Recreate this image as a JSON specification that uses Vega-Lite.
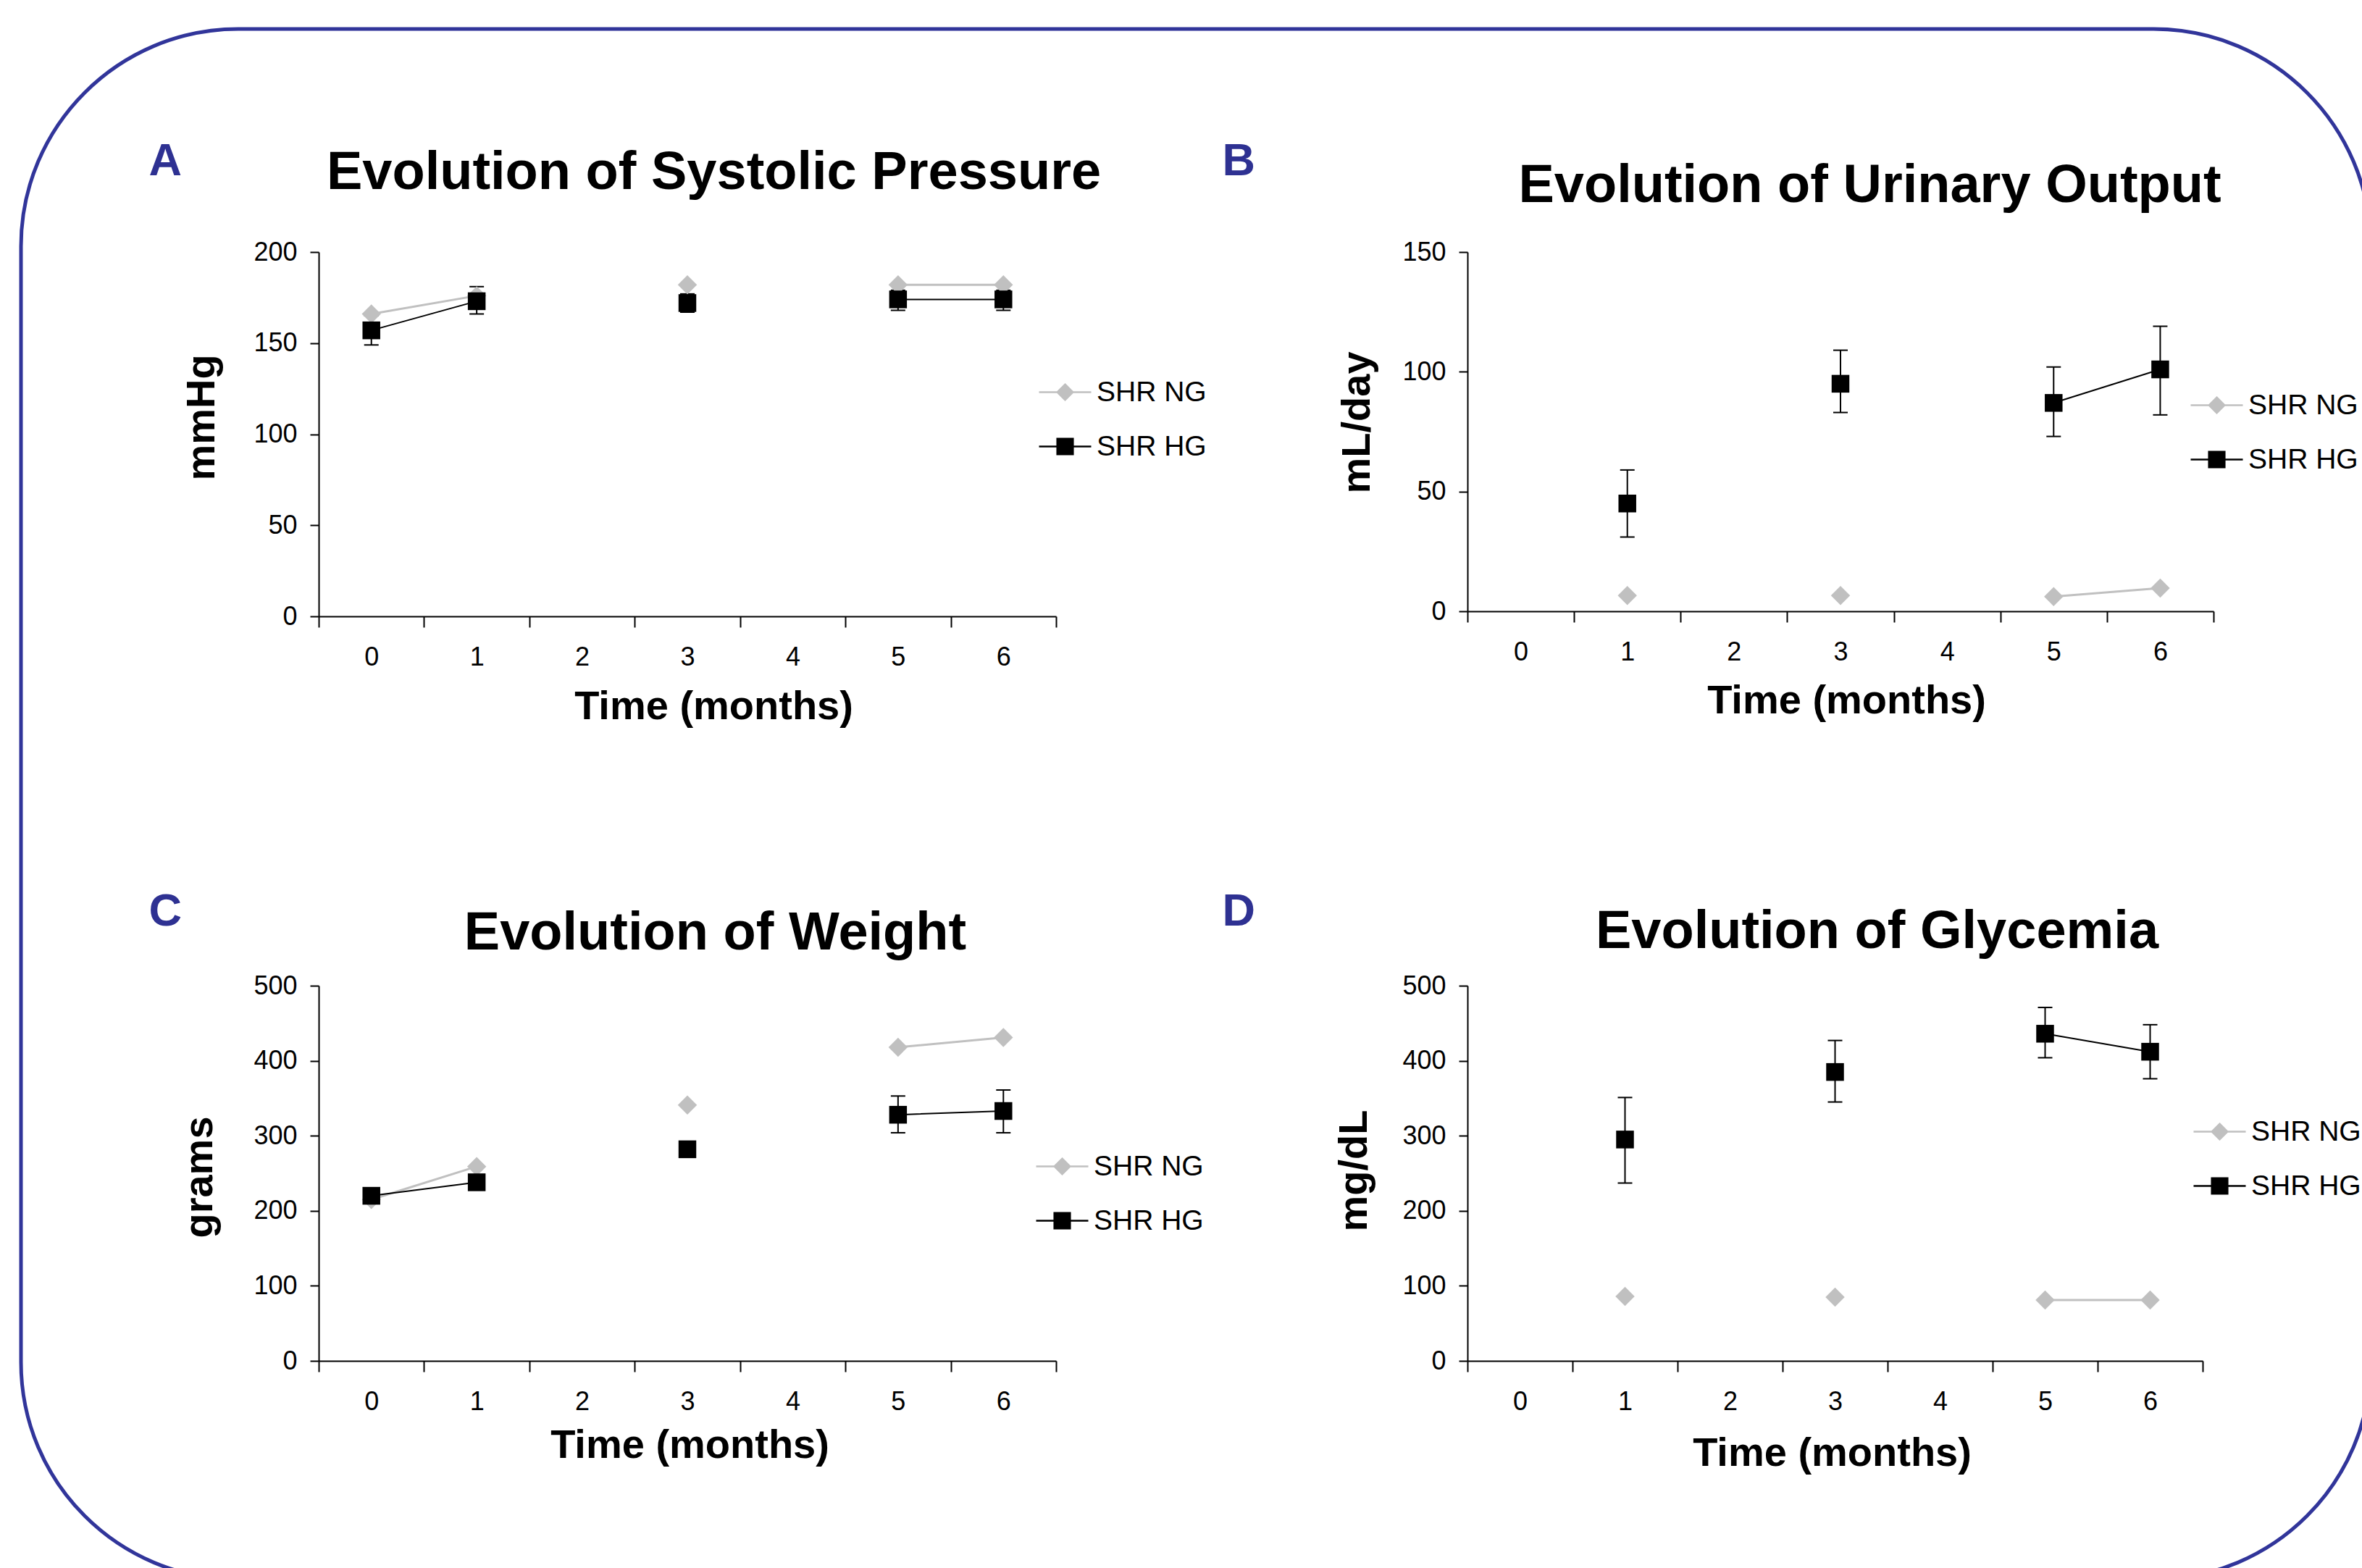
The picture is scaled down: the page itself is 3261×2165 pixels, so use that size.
{
  "$schema": "https://vega.github.io/schema/vega-lite/v6.json",
  "padding": {"left": 26, "top": 37, "right": 0, "bottom": 0},
  "background": "white",
  "config": {
    "font": "Liberation Sans",
    "view": {"stroke": null},
    "axis": {"domainColor": "black", "domainWidth": 2, "tickColor": "black", "tickWidth": 2, "labelColor": "black", "titleColor": "black", "grid": false, "labelFontSize": 36, "titleFontSize": 56, "titleFontWeight": "bold"},
    "legend": {"labelFontSize": 39, "labelColor": "black", "labelOffset": 6, "rowPadding": 17, "padding": 0, "symbolSize": 5184, "symbolStrokeWidth": 2.5, "title": null, "strokeWidth": 5}
  },
  "datasets": {
    "A": [
      {"month": 0, "series": "SHR NG", "value": 166, "lo": null, "hi": null},
      {"month": 1, "series": "SHR NG", "value": 176, "lo": null, "hi": null},
      {"month": 2, "series": "SHR NG", "value": null, "lo": null, "hi": null},
      {"month": 3, "series": "SHR NG", "value": 182, "lo": null, "hi": null},
      {"month": 4, "series": "SHR NG", "value": null, "lo": null, "hi": null},
      {"month": 5, "series": "SHR NG", "value": 182, "lo": null, "hi": null},
      {"month": 6, "series": "SHR NG", "value": 182, "lo": null, "hi": null},
      {"month": 0, "series": "SHR HG", "value": 157, "lo": 149, "hi": 165},
      {"month": 1, "series": "SHR HG", "value": 173, "lo": 166, "hi": 181},
      {"month": 2, "series": "SHR HG", "value": null, "lo": null, "hi": null},
      {"month": 3, "series": "SHR HG", "value": 172, "lo": 167, "hi": 177},
      {"month": 4, "series": "SHR HG", "value": null, "lo": null, "hi": null},
      {"month": 5, "series": "SHR HG", "value": 174, "lo": 168, "hi": 179},
      {"month": 6, "series": "SHR HG", "value": 174, "lo": 168, "hi": 179}
    ],
    "B": [
      {"month": 0, "series": "SHR NG", "value": null, "lo": null, "hi": null},
      {"month": 1, "series": "SHR NG", "value": 6.6, "lo": null, "hi": null},
      {"month": 2, "series": "SHR NG", "value": null, "lo": null, "hi": null},
      {"month": 3, "series": "SHR NG", "value": 6.6, "lo": null, "hi": null},
      {"month": 4, "series": "SHR NG", "value": null, "lo": null, "hi": null},
      {"month": 5, "series": "SHR NG", "value": 6.1, "lo": null, "hi": null},
      {"month": 6, "series": "SHR NG", "value": 9.7, "lo": null, "hi": null},
      {"month": 0, "series": "SHR HG", "value": null, "lo": null, "hi": null},
      {"month": 1, "series": "SHR HG", "value": 45, "lo": 31, "hi": 59},
      {"month": 2, "series": "SHR HG", "value": null, "lo": null, "hi": null},
      {"month": 3, "series": "SHR HG", "value": 95, "lo": 83, "hi": 109},
      {"month": 4, "series": "SHR HG", "value": null, "lo": null, "hi": null},
      {"month": 5, "series": "SHR HG", "value": 87, "lo": 73, "hi": 102},
      {"month": 6, "series": "SHR HG", "value": 101, "lo": 82, "hi": 119}
    ],
    "C": [
      {"month": 0, "series": "SHR NG", "value": 215, "lo": null, "hi": null},
      {"month": 1, "series": "SHR NG", "value": 259, "lo": null, "hi": null},
      {"month": 2, "series": "SHR NG", "value": null, "lo": null, "hi": null},
      {"month": 3, "series": "SHR NG", "value": 341, "lo": null, "hi": null},
      {"month": 4, "series": "SHR NG", "value": null, "lo": null, "hi": null},
      {"month": 5, "series": "SHR NG", "value": 418, "lo": null, "hi": null},
      {"month": 6, "series": "SHR NG", "value": 431, "lo": null, "hi": null},
      {"month": 0, "series": "SHR HG", "value": 220, "lo": 215, "hi": 225},
      {"month": 1, "series": "SHR HG", "value": 238, "lo": 233, "hi": 243},
      {"month": 2, "series": "SHR HG", "value": null, "lo": null, "hi": null},
      {"month": 3, "series": "SHR HG", "value": 282, "lo": 277, "hi": 287},
      {"month": 4, "series": "SHR HG", "value": null, "lo": null, "hi": null},
      {"month": 5, "series": "SHR HG", "value": 328, "lo": 304, "hi": 353},
      {"month": 6, "series": "SHR HG", "value": 333, "lo": 304, "hi": 361}
    ],
    "D": [
      {"month": 0, "series": "SHR NG", "value": null, "lo": null, "hi": null},
      {"month": 1, "series": "SHR NG", "value": 86, "lo": null, "hi": null},
      {"month": 2, "series": "SHR NG", "value": null, "lo": null, "hi": null},
      {"month": 3, "series": "SHR NG", "value": 85, "lo": null, "hi": null},
      {"month": 4, "series": "SHR NG", "value": null, "lo": null, "hi": null},
      {"month": 5, "series": "SHR NG", "value": 81, "lo": null, "hi": null},
      {"month": 6, "series": "SHR NG", "value": 81, "lo": null, "hi": null},
      {"month": 0, "series": "SHR HG", "value": null, "lo": null, "hi": null},
      {"month": 1, "series": "SHR HG", "value": 295, "lo": 237, "hi": 351},
      {"month": 2, "series": "SHR HG", "value": null, "lo": null, "hi": null},
      {"month": 3, "series": "SHR HG", "value": 385, "lo": 345, "hi": 427},
      {"month": 4, "series": "SHR HG", "value": null, "lo": null, "hi": null},
      {"month": 5, "series": "SHR HG", "value": 436, "lo": 404, "hi": 471},
      {"month": 6, "series": "SHR HG", "value": 412, "lo": 376, "hi": 448}
    ]
  },
  "columns": 2,
  "bounds": "flush",
  "align": "all",
  "spacing": {"row": 495, "column": 556},
  "resolve": {
    "scale": {"fill": "independent", "stroke": "independent", "shape": "independent", "color": "independent"},
    "legend": {"fill": "independent", "stroke": "independent", "shape": "independent", "color": "independent"}
  },
  "concat": [
    {
      "width": 1018, "height": 503,
      "data": {"name": "A"},
      "resolve": {"axis": {"x": "independent", "y": "independent"}},
      "layer": [
        {"transform": [{"filter": "datum.series === 'SHR NG'"}],
         "mark": {"type": "line", "color": "#c0c0c0", "strokeWidth": 3},
         "encoding": {
           "x": {"field": "month", "type": "ordinal", "scale": {"type": "band", "domain": [0,1,2,3,4,5,6], "paddingInner": 0, "paddingOuter": 0},
                 "axis": {"orient": "bottom", "title": "Time (months)", "tickBand": "extent", "labelAngle": 0, "tickSize": 15, "labelPadding": 52, "labelBaseline": "alphabetic", "titleX": 545, "titleY": 141, "titleBaseline": "alphabetic", "titleAlign": "center"}},
           "y": {"field": "value", "type": "quantitative", "scale": {"domain": [0, 200], "nice": false},
                 "axis": {"orient": "left", "values": [0,50,100,150,200], "title": "mmHg", "tickSize": 12, "labelPadding": 18, "titleX": -162, "titleY": 228, "titleAngle": -90, "titleAlign": "center", "titleBaseline": "middle"}}
         }},
        {"transform": [{"filter": "datum.series === 'SHR HG'"}],
         "mark": {"type": "line", "color": "black", "strokeWidth": 2},
         "encoding": {
           "x": {"field": "month", "type": "ordinal", "scale": {"type": "band", "domain": [0,1,2,3,4,5,6], "paddingInner": 0, "paddingOuter": 0}, "axis": null},
           "y": {"field": "value", "type": "quantitative", "scale": {"domain": [0, 200], "nice": false}, "axis": null}
         }},
        {"transform": [{"filter": "datum.series === 'SHR HG' && datum.lo != null"}],
         "mark": {"type": "rule", "color": "black", "strokeWidth": 2},
         "encoding": {
           "x": {"field": "month", "type": "ordinal", "scale": {"type": "band", "domain": [0,1,2,3,4,5,6], "paddingInner": 0, "paddingOuter": 0},
                 "axis": {"orient": "top", "title": "Evolution of Systolic Pressure", "labels": false, "ticks": false, "domain": false, "titleX": 545, "titleY": -88, "titleFontSize": 74, "titleAlign": "center", "titleBaseline": "alphabetic", "titleAngle": 0}},
           "y": {"field": "lo", "type": "quantitative", "scale": {"domain": [0, 200], "nice": false},
                 "axis": {"orient": "left", "title": "A", "labels": false, "ticks": false, "domain": false, "titleAngle": 0, "titleX": -235, "titleY": -107, "titleAlign": "left", "titleBaseline": "alphabetic", "titleColor": "#2E3192", "titleFontSize": 63}},
           "y2": {"field": "hi"}
         }},
        {"transform": [{"filter": "datum.series === 'SHR HG' && datum.lo != null"}],
         "mark": {"type": "tick", "color": "black", "thickness": 2, "size": 20, "opacity": 1},
         "encoding": {
           "x": {"field": "month", "type": "ordinal", "scale": {"type": "band", "domain": [0,1,2,3,4,5,6], "paddingInner": 0, "paddingOuter": 0}, "axis": null},
           "y": {"field": "lo", "type": "quantitative", "scale": {"domain": [0, 200], "nice": false}, "axis": null}
         }},
        {"transform": [{"filter": "datum.series === 'SHR HG' && datum.hi != null"}],
         "mark": {"type": "tick", "color": "black", "thickness": 2, "size": 20, "opacity": 1},
         "encoding": {
           "x": {"field": "month", "type": "ordinal", "scale": {"type": "band", "domain": [0,1,2,3,4,5,6], "paddingInner": 0, "paddingOuter": 0}, "axis": null},
           "y": {"field": "hi", "type": "quantitative", "scale": {"domain": [0, 200], "nice": false}, "axis": null}
         }},
        {"transform": [{"filter": "datum.series === 'SHR NG'"}],
         "mark": {"type": "point", "shape": "diamond", "filled": true, "color": "#c0c0c0", "size": 700, "opacity": 1},
         "encoding": {
           "x": {"field": "month", "type": "ordinal", "scale": {"type": "band", "domain": [0,1,2,3,4,5,6], "paddingInner": 0, "paddingOuter": 0}, "axis": null},
           "y": {"field": "value", "type": "quantitative", "scale": {"domain": [0, 200], "nice": false}, "axis": null}
         }},
        {"transform": [{"filter": "datum.series === 'SHR HG'"}],
         "mark": {"type": "point", "shape": "square", "filled": true, "color": "black", "size": 600, "opacity": 1},
         "encoding": {
           "x": {"field": "month", "type": "ordinal", "scale": {"type": "band", "domain": [0,1,2,3,4,5,6], "paddingInner": 0, "paddingOuter": 0}, "axis": null},
           "y": {"field": "value", "type": "quantitative", "scale": {"domain": [0, 200], "nice": false}, "axis": null}
         }},
        {"transform": [{"filter": "false"}],
         "mark": {"type": "point", "filled": true, "opacity": 1},
         "encoding": {
           "fill": {"field": "series", "type": "nominal", "scale": {"domain": ["SHR NG", "SHR HG"], "range": ["#c0c0c0", "#000000"]}, "legend": {"orient": "none", "legendX": 993, "legendY": 156}},
           "stroke": {"field": "series", "type": "nominal", "scale": {"domain": ["SHR NG", "SHR HG"], "range": ["#c0c0c0", "#000000"]}, "legend": {"orient": "none", "legendX": 993, "legendY": 156}},
           "shape": {"field": "series", "type": "nominal", "scale": {"domain": ["SHR NG", "SHR HG"], "range": ["M-1,0L1,0M0,-0.3L0.3,0L0,0.3L-0.3,0Z", "M-1,0L1,0M-0.3,-0.3L0.3,-0.3L0.3,0.3L-0.3,0.3Z"]}, "legend": {"orient": "none", "legendX": 993, "legendY": 156}}
         }},
        {"transform": [{"filter": "false"}],
         "mark": {"type": "square", "opacity": 1},
         "encoding": {
           "color": {"field": "value", "type": "quantitative", "scale": {"domain": [0, 1], "range": ["rgba(255,255,255,0)", "rgba(255,255,255,0)"]},
                     "legend": {"orient": "none", "legendX": -411, "legendY": -308, "direction": "vertical", "gradientLength": 2141, "gradientThickness": 3244, "gradientStrokeWidth": 0, "labelOpacity": 0, "labelFontSize": 1, "labelOffset": 0, "labelExpr": "''", "padding": 0, "title": null, "strokeColor": "#31359a", "cornerRadius": 300, "encode": {"legend": {"update": {"strokeWidth": {"value": 5}}}}}}
         }}
      ]
    },
    {
      "width": 1030, "height": 496,
      "data": {"name": "B"},
      "resolve": {"axis": {"x": "independent", "y": "independent"}},
      "layer": [
        {"transform": [{"filter": "datum.series === 'SHR NG'"}],
         "mark": {"type": "line", "color": "#c0c0c0", "strokeWidth": 3},
         "encoding": {
           "x": {"field": "month", "type": "ordinal", "scale": {"type": "band", "domain": [0,1,2,3,4,5,6], "paddingInner": 0, "paddingOuter": 0},
                 "axis": {"orient": "bottom", "title": "Time (months)", "tickBand": "extent", "labelAngle": 0, "tickSize": 15, "labelPadding": 52, "labelBaseline": "alphabetic", "titleX": 523, "titleY": 140, "titleBaseline": "alphabetic", "titleAlign": "center"}},
           "y": {"field": "value", "type": "quantitative", "scale": {"domain": [0, 150], "nice": false},
                 "axis": {"orient": "left", "values": [0,50,100,150], "title": "mL/day", "tickSize": 12, "labelPadding": 18, "titleX": -153, "titleY": 235, "titleAngle": -90, "titleAlign": "center", "titleBaseline": "middle"}}
         }},
        {"transform": [{"filter": "datum.series === 'SHR HG'"}],
         "mark": {"type": "line", "color": "black", "strokeWidth": 2},
         "encoding": {
           "x": {"field": "month", "type": "ordinal", "scale": {"type": "band", "domain": [0,1,2,3,4,5,6], "paddingInner": 0, "paddingOuter": 0}, "axis": null},
           "y": {"field": "value", "type": "quantitative", "scale": {"domain": [0, 150], "nice": false}, "axis": null}
         }},
        {"transform": [{"filter": "datum.series === 'SHR HG' && datum.lo != null"}],
         "mark": {"type": "rule", "color": "black", "strokeWidth": 2},
         "encoding": {
           "x": {"field": "month", "type": "ordinal", "scale": {"type": "band", "domain": [0,1,2,3,4,5,6], "paddingInner": 0, "paddingOuter": 0},
                 "axis": {"orient": "top", "title": "Evolution of Urinary Output", "labels": false, "ticks": false, "domain": false, "titleX": 555, "titleY": -70, "titleFontSize": 74, "titleAlign": "center", "titleBaseline": "alphabetic", "titleAngle": 0}},
           "y": {"field": "lo", "type": "quantitative", "scale": {"domain": [0, 150], "nice": false},
                 "axis": {"orient": "left", "title": "B", "labels": false, "ticks": false, "domain": false, "titleAngle": 0, "titleX": -339, "titleY": -107, "titleAlign": "left", "titleBaseline": "alphabetic", "titleColor": "#2E3192", "titleFontSize": 63}},
           "y2": {"field": "hi"}
         }},
        {"transform": [{"filter": "datum.series === 'SHR HG' && datum.lo != null"}],
         "mark": {"type": "tick", "color": "black", "thickness": 2, "size": 20, "opacity": 1},
         "encoding": {
           "x": {"field": "month", "type": "ordinal", "scale": {"type": "band", "domain": [0,1,2,3,4,5,6], "paddingInner": 0, "paddingOuter": 0}, "axis": null},
           "y": {"field": "lo", "type": "quantitative", "scale": {"domain": [0, 150], "nice": false}, "axis": null}
         }},
        {"transform": [{"filter": "datum.series === 'SHR HG' && datum.hi != null"}],
         "mark": {"type": "tick", "color": "black", "thickness": 2, "size": 20, "opacity": 1},
         "encoding": {
           "x": {"field": "month", "type": "ordinal", "scale": {"type": "band", "domain": [0,1,2,3,4,5,6], "paddingInner": 0, "paddingOuter": 0}, "axis": null},
           "y": {"field": "hi", "type": "quantitative", "scale": {"domain": [0, 150], "nice": false}, "axis": null}
         }},
        {"transform": [{"filter": "datum.series === 'SHR NG'"}],
         "mark": {"type": "point", "shape": "diamond", "filled": true, "color": "#c0c0c0", "size": 700, "opacity": 1},
         "encoding": {
           "x": {"field": "month", "type": "ordinal", "scale": {"type": "band", "domain": [0,1,2,3,4,5,6], "paddingInner": 0, "paddingOuter": 0}, "axis": null},
           "y": {"field": "value", "type": "quantitative", "scale": {"domain": [0, 150], "nice": false}, "axis": null}
         }},
        {"transform": [{"filter": "datum.series === 'SHR HG'"}],
         "mark": {"type": "point", "shape": "square", "filled": true, "color": "black", "size": 600, "opacity": 1},
         "encoding": {
           "x": {"field": "month", "type": "ordinal", "scale": {"type": "band", "domain": [0,1,2,3,4,5,6], "paddingInner": 0, "paddingOuter": 0}, "axis": null},
           "y": {"field": "value", "type": "quantitative", "scale": {"domain": [0, 150], "nice": false}, "axis": null}
         }},
        {"transform": [{"filter": "false"}],
         "mark": {"type": "point", "filled": true, "opacity": 1},
         "encoding": {
           "fill": {"field": "series", "type": "nominal", "scale": {"domain": ["SHR NG", "SHR HG"], "range": ["#c0c0c0", "#000000"]}, "legend": {"orient": "none", "legendX": 997, "legendY": 174}},
           "stroke": {"field": "series", "type": "nominal", "scale": {"domain": ["SHR NG", "SHR HG"], "range": ["#c0c0c0", "#000000"]}, "legend": {"orient": "none", "legendX": 997, "legendY": 174}},
           "shape": {"field": "series", "type": "nominal", "scale": {"domain": ["SHR NG", "SHR HG"], "range": ["M-1,0L1,0M0,-0.3L0.3,0L0,0.3L-0.3,0Z", "M-1,0L1,0M-0.3,-0.3L0.3,-0.3L0.3,0.3L-0.3,0.3Z"]}, "legend": {"orient": "none", "legendX": 997, "legendY": 174}}
         }}
      ]
    },
    {
      "width": 1018, "height": 518,
      "data": {"name": "C"},
      "resolve": {"axis": {"x": "independent", "y": "independent"}},
      "layer": [
        {"transform": [{"filter": "datum.series === 'SHR NG'"}],
         "mark": {"type": "line", "color": "#c0c0c0", "strokeWidth": 3},
         "encoding": {
           "x": {"field": "month", "type": "ordinal", "scale": {"type": "band", "domain": [0,1,2,3,4,5,6], "paddingInner": 0, "paddingOuter": 0},
                 "axis": {"orient": "bottom", "title": "Time (months)", "tickBand": "extent", "labelAngle": 0, "tickSize": 15, "labelPadding": 52, "labelBaseline": "alphabetic", "titleX": 512, "titleY": 133, "titleBaseline": "alphabetic", "titleAlign": "center"}},
           "y": {"field": "value", "type": "quantitative", "scale": {"domain": [0, 500], "nice": false},
                 "axis": {"orient": "left", "values": [0,100,200,300,400,500], "title": "grams", "tickSize": 12, "labelPadding": 18, "titleX": -165, "titleY": 264, "titleAngle": -90, "titleAlign": "center", "titleBaseline": "middle"}}
         }},
        {"transform": [{"filter": "datum.series === 'SHR HG'"}],
         "mark": {"type": "line", "color": "black", "strokeWidth": 2},
         "encoding": {
           "x": {"field": "month", "type": "ordinal", "scale": {"type": "band", "domain": [0,1,2,3,4,5,6], "paddingInner": 0, "paddingOuter": 0}, "axis": null},
           "y": {"field": "value", "type": "quantitative", "scale": {"domain": [0, 500], "nice": false}, "axis": null}
         }},
        {"transform": [{"filter": "datum.series === 'SHR HG' && datum.lo != null"}],
         "mark": {"type": "rule", "color": "black", "strokeWidth": 2},
         "encoding": {
           "x": {"field": "month", "type": "ordinal", "scale": {"type": "band", "domain": [0,1,2,3,4,5,6], "paddingInner": 0, "paddingOuter": 0},
                 "axis": {"orient": "top", "title": "Evolution of Weight", "labels": false, "ticks": false, "domain": false, "titleX": 547, "titleY": -51, "titleFontSize": 74, "titleAlign": "center", "titleBaseline": "alphabetic", "titleAngle": 0}},
           "y": {"field": "lo", "type": "quantitative", "scale": {"domain": [0, 500], "nice": false},
                 "axis": {"orient": "left", "title": "C", "labels": false, "ticks": false, "domain": false, "titleAngle": 0, "titleX": -235, "titleY": -84, "titleAlign": "left", "titleBaseline": "alphabetic", "titleColor": "#2E3192", "titleFontSize": 63}},
           "y2": {"field": "hi"}
         }},
        {"transform": [{"filter": "datum.series === 'SHR HG' && datum.lo != null"}],
         "mark": {"type": "tick", "color": "black", "thickness": 2, "size": 20, "opacity": 1},
         "encoding": {
           "x": {"field": "month", "type": "ordinal", "scale": {"type": "band", "domain": [0,1,2,3,4,5,6], "paddingInner": 0, "paddingOuter": 0}, "axis": null},
           "y": {"field": "lo", "type": "quantitative", "scale": {"domain": [0, 500], "nice": false}, "axis": null}
         }},
        {"transform": [{"filter": "datum.series === 'SHR HG' && datum.hi != null"}],
         "mark": {"type": "tick", "color": "black", "thickness": 2, "size": 20, "opacity": 1},
         "encoding": {
           "x": {"field": "month", "type": "ordinal", "scale": {"type": "band", "domain": [0,1,2,3,4,5,6], "paddingInner": 0, "paddingOuter": 0}, "axis": null},
           "y": {"field": "hi", "type": "quantitative", "scale": {"domain": [0, 500], "nice": false}, "axis": null}
         }},
        {"transform": [{"filter": "datum.series === 'SHR NG'"}],
         "mark": {"type": "point", "shape": "diamond", "filled": true, "color": "#c0c0c0", "size": 700, "opacity": 1},
         "encoding": {
           "x": {"field": "month", "type": "ordinal", "scale": {"type": "band", "domain": [0,1,2,3,4,5,6], "paddingInner": 0, "paddingOuter": 0}, "axis": null},
           "y": {"field": "value", "type": "quantitative", "scale": {"domain": [0, 500], "nice": false}, "axis": null}
         }},
        {"transform": [{"filter": "datum.series === 'SHR HG'"}],
         "mark": {"type": "point", "shape": "square", "filled": true, "color": "black", "size": 600, "opacity": 1},
         "encoding": {
           "x": {"field": "month", "type": "ordinal", "scale": {"type": "band", "domain": [0,1,2,3,4,5,6], "paddingInner": 0, "paddingOuter": 0}, "axis": null},
           "y": {"field": "value", "type": "quantitative", "scale": {"domain": [0, 500], "nice": false}, "axis": null}
         }},
        {"transform": [{"filter": "false"}],
         "mark": {"type": "point", "filled": true, "opacity": 1},
         "encoding": {
           "fill": {"field": "series", "type": "nominal", "scale": {"domain": ["SHR NG", "SHR HG"], "range": ["#c0c0c0", "#000000"]}, "legend": {"orient": "none", "legendX": 989, "legendY": 212}},
           "stroke": {"field": "series", "type": "nominal", "scale": {"domain": ["SHR NG", "SHR HG"], "range": ["#c0c0c0", "#000000"]}, "legend": {"orient": "none", "legendX": 989, "legendY": 212}},
           "shape": {"field": "series", "type": "nominal", "scale": {"domain": ["SHR NG", "SHR HG"], "range": ["M-1,0L1,0M0,-0.3L0.3,0L0,0.3L-0.3,0Z", "M-1,0L1,0M-0.3,-0.3L0.3,-0.3L0.3,0.3L-0.3,0.3Z"]}, "legend": {"orient": "none", "legendX": 989, "legendY": 212}}
         }}
      ]
    },
    {
      "width": 1015, "height": 518,
      "data": {"name": "D"},
      "resolve": {"axis": {"x": "independent", "y": "independent"}},
      "layer": [
        {"transform": [{"filter": "datum.series === 'SHR NG'"}],
         "mark": {"type": "line", "color": "#c0c0c0", "strokeWidth": 3},
         "encoding": {
           "x": {"field": "month", "type": "ordinal", "scale": {"type": "band", "domain": [0,1,2,3,4,5,6], "paddingInner": 0, "paddingOuter": 0},
                 "axis": {"orient": "bottom", "title": "Time (months)", "tickBand": "extent", "labelAngle": 0, "tickSize": 15, "labelPadding": 52, "labelBaseline": "alphabetic", "titleX": 503, "titleY": 144, "titleBaseline": "alphabetic", "titleAlign": "center"}},
           "y": {"field": "value", "type": "quantitative", "scale": {"domain": [0, 500], "nice": false},
                 "axis": {"orient": "left", "values": [0,100,200,300,400,500], "title": "mg/dL", "tickSize": 12, "labelPadding": 18, "titleX": -157, "titleY": 255, "titleAngle": -90, "titleAlign": "center", "titleBaseline": "middle"}}
         }},
        {"transform": [{"filter": "datum.series === 'SHR HG'"}],
         "mark": {"type": "line", "color": "black", "strokeWidth": 2},
         "encoding": {
           "x": {"field": "month", "type": "ordinal", "scale": {"type": "band", "domain": [0,1,2,3,4,5,6], "paddingInner": 0, "paddingOuter": 0}, "axis": null},
           "y": {"field": "value", "type": "quantitative", "scale": {"domain": [0, 500], "nice": false}, "axis": null}
         }},
        {"transform": [{"filter": "datum.series === 'SHR HG' && datum.lo != null"}],
         "mark": {"type": "rule", "color": "black", "strokeWidth": 2},
         "encoding": {
           "x": {"field": "month", "type": "ordinal", "scale": {"type": "band", "domain": [0,1,2,3,4,5,6], "paddingInner": 0, "paddingOuter": 0},
                 "axis": {"orient": "top", "title": "Evolution of Glycemia", "labels": false, "ticks": false, "domain": false, "titleX": 565, "titleY": -53, "titleFontSize": 74, "titleAlign": "center", "titleBaseline": "alphabetic", "titleAngle": 0}},
           "y": {"field": "lo", "type": "quantitative", "scale": {"domain": [0, 500], "nice": false},
                 "axis": {"orient": "left", "title": "D", "labels": false, "ticks": false, "domain": false, "titleAngle": 0, "titleX": -339, "titleY": -84, "titleAlign": "left", "titleBaseline": "alphabetic", "titleColor": "#2E3192", "titleFontSize": 63}},
           "y2": {"field": "hi"}
         }},
        {"transform": [{"filter": "datum.series === 'SHR HG' && datum.lo != null"}],
         "mark": {"type": "tick", "color": "black", "thickness": 2, "size": 20, "opacity": 1},
         "encoding": {
           "x": {"field": "month", "type": "ordinal", "scale": {"type": "band", "domain": [0,1,2,3,4,5,6], "paddingInner": 0, "paddingOuter": 0}, "axis": null},
           "y": {"field": "lo", "type": "quantitative", "scale": {"domain": [0, 500], "nice": false}, "axis": null}
         }},
        {"transform": [{"filter": "datum.series === 'SHR HG' && datum.hi != null"}],
         "mark": {"type": "tick", "color": "black", "thickness": 2, "size": 20, "opacity": 1},
         "encoding": {
           "x": {"field": "month", "type": "ordinal", "scale": {"type": "band", "domain": [0,1,2,3,4,5,6], "paddingInner": 0, "paddingOuter": 0}, "axis": null},
           "y": {"field": "hi", "type": "quantitative", "scale": {"domain": [0, 500], "nice": false}, "axis": null}
         }},
        {"transform": [{"filter": "datum.series === 'SHR NG'"}],
         "mark": {"type": "point", "shape": "diamond", "filled": true, "color": "#c0c0c0", "size": 700, "opacity": 1},
         "encoding": {
           "x": {"field": "month", "type": "ordinal", "scale": {"type": "band", "domain": [0,1,2,3,4,5,6], "paddingInner": 0, "paddingOuter": 0}, "axis": null},
           "y": {"field": "value", "type": "quantitative", "scale": {"domain": [0, 500], "nice": false}, "axis": null}
         }},
        {"transform": [{"filter": "datum.series === 'SHR HG'"}],
         "mark": {"type": "point", "shape": "square", "filled": true, "color": "black", "size": 600, "opacity": 1},
         "encoding": {
           "x": {"field": "month", "type": "ordinal", "scale": {"type": "band", "domain": [0,1,2,3,4,5,6], "paddingInner": 0, "paddingOuter": 0}, "axis": null},
           "y": {"field": "value", "type": "quantitative", "scale": {"domain": [0, 500], "nice": false}, "axis": null}
         }},
        {"transform": [{"filter": "false"}],
         "mark": {"type": "point", "filled": true, "opacity": 1},
         "encoding": {
           "fill": {"field": "series", "type": "nominal", "scale": {"domain": ["SHR NG", "SHR HG"], "range": ["#c0c0c0", "#000000"]}, "legend": {"orient": "none", "legendX": 1001, "legendY": 164}},
           "stroke": {"field": "series", "type": "nominal", "scale": {"domain": ["SHR NG", "SHR HG"], "range": ["#c0c0c0", "#000000"]}, "legend": {"orient": "none", "legendX": 1001, "legendY": 164}},
           "shape": {"field": "series", "type": "nominal", "scale": {"domain": ["SHR NG", "SHR HG"], "range": ["M-1,0L1,0M0,-0.3L0.3,0L0,0.3L-0.3,0Z", "M-1,0L1,0M-0.3,-0.3L0.3,-0.3L0.3,0.3L-0.3,0.3Z"]}, "legend": {"orient": "none", "legendX": 1001, "legendY": 164}}
         }}
      ]
    }
  ]
}
